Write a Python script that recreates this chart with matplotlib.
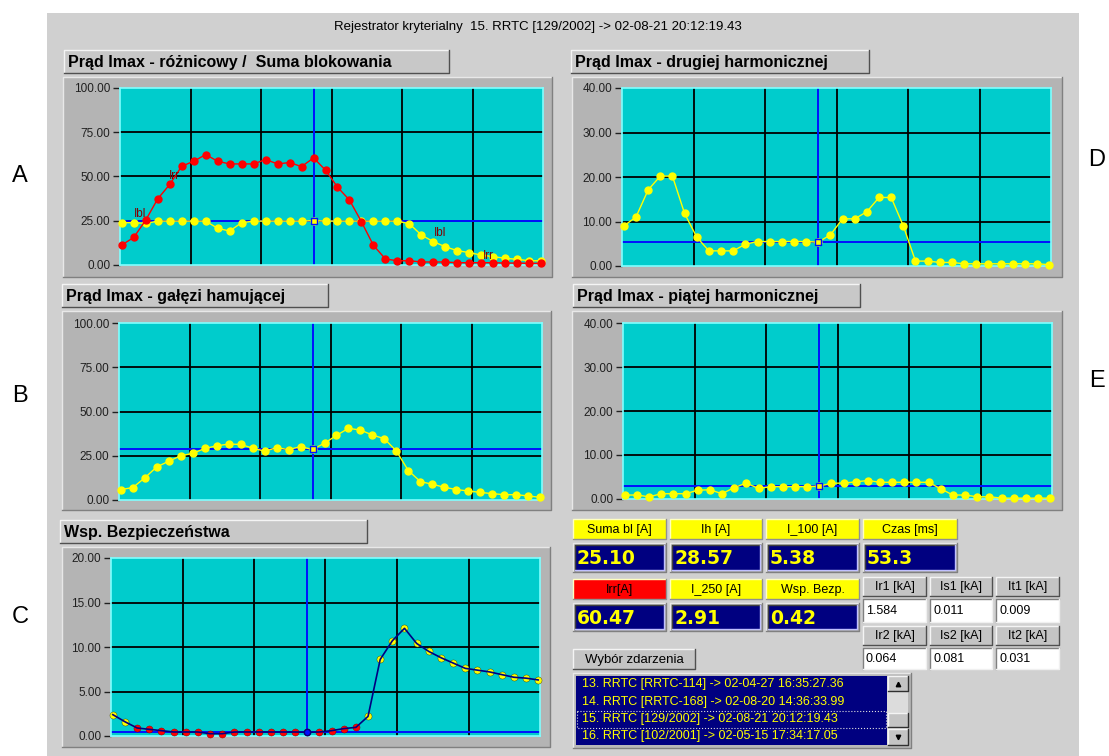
import matplotlib
matplotlib.use('Agg')
import matplotlib.pyplot as plt
from matplotlib.patches import Rectangle
import numpy as np

W, H = 1109, 756
plt.rcParams['font.family'] = ['Liberation Sans', 'DejaVu Sans']

# ---------------- data ----------------
n_samples = 36
cursor_idx = 16

irr = [11.3, 15.6, 25.4, 37.4, 45.5, 55.8, 58.6, 62.4, 58.6, 57.1, 57.1, 57.1, 59.6, 57.1, 57.9, 55.6,
       60.5, 53.6, 44.0, 36.7, 24.4, 11.1, 3.4, 2.4, 2.4, 1.7, 1.7, 1.7, 1.3, 1.3, 1.3, 1.3, 1.1, 1.1, 0.9, 0.9]
ibl = [23.9, 23.9, 23.5, 24.8, 24.8, 24.8, 24.8, 24.8, 20.7, 19.2, 23.9, 24.8, 24.8, 24.8, 24.8, 24.8,
       25.1, 24.8, 24.8, 24.8, 24.8, 24.8, 24.8, 24.8, 23.3, 16.9, 13.2, 10.3, 8.1, 7.0, 5.6, 4.7, 3.8, 3.2, 2.4, 2.4]
ih = [5.9, 7.0, 12.5, 18.7, 21.9, 25.0, 26.3, 29.1, 30.6, 31.6, 31.4, 29.3, 27.6, 29.5, 28.5, 30.1,
      28.57, 32.1, 36.5, 40.5, 39.5, 36.7, 34.6, 27.6, 16.6, 10.4, 8.9, 7.2, 5.9, 5.1, 4.3, 3.6, 3.0, 3.0, 2.3, 1.5]
i100 = [9.0, 11.0, 17.1, 20.2, 20.2, 11.8, 6.5, 3.4, 3.4, 3.4, 4.9, 5.5, 5.5, 5.5, 5.5, 5.5,
        5.38, 7.0, 10.6, 10.6, 12.2, 15.4, 15.4, 9.0, 1.1, 1.1, 0.8, 0.8, 0.5, 0.5, 0.5, 0.5, 0.5, 0.5, 0.5, 0.3]
i250 = [0.9, 0.9, 0.5, 1.2, 1.2, 1.2, 2.0, 2.1, 1.2, 2.6, 3.6, 2.4, 2.8, 2.8, 2.8, 2.8,
        2.91, 3.6, 3.6, 3.9, 4.2, 3.8, 3.8, 3.8, 3.8, 3.8, 2.3, 0.9, 0.9, 0.5, 0.5, 0.2, 0.2, 0.2, 0.2, 0.2]
wsp = [2.4, 1.6, 0.9, 0.75, 0.6, 0.45, 0.45, 0.45, 0.26, 0.26, 0.45, 0.45, 0.45, 0.45, 0.45, 0.45,
       0.42, 0.45, 0.6, 0.83, 0.97, 2.2, 8.6, 10.7, 12.1, 10.4, 9.5, 8.8, 8.2, 7.6, 7.4, 7.2, 6.9, 6.6, 6.5, 6.3]

cursor_suma_bl = 25.10
cursor_ih = 28.57
cursor_i100 = 5.38
cursor_i250 = 2.91
cursor_wsp = 0.42

title_main = "Rejestrator kryterialny  15. RRTC [129/2002] -> 02-08-21 20:12:19.43"
chart_titles = ["Prąd Imax - różnicowy /  Suma blokowania", "Prąd Imax - drugiej harmonicznej",
                "Prąd Imax - gałęzi hamującej", "Prąd Imax - piątej harmonicznej", "Wsp. Bezpieczeństwa"]
row1_labels = ["Suma bl [A]", "Ih [A]", "I_100 [A]", "Czas [ms]"]
row1_values = ["25.10", "28.57", "5.38", "53.3"]
row2_labels = ["Irr[A]", "I_250 [A]", "Wsp. Bezp."]
row2_values = ["60.47", "2.91", "0.42"]
ka_labels1 = ["Ir1 [kA]", "Is1 [kA]", "It1 [kA]"]
ka_values1 = ["1.584", "0.011", "0.009"]
ka_labels2 = ["Ir2 [kA]", "Is2 [kA]", "It2 [kA]"]
ka_values2 = ["0.064", "0.081", "0.031"]
events = ["13. RRTC [RRTC-114] -> 02-04-27 16:35:27.36",
          "14. RRTC [RRTC-168] -> 02-08-20 14:36:33.99",
          "15. RRTC [129/2002] -> 02-08-21 20:12:19.43",
          "16. RRTC [102/2001] -> 02-05-15 17:34:17.05"]
side_letters = ["A", "B", "C", "D", "E"]

# ---------------- figure ----------------
PANEL = '#d0d0d0'
FRAME = '#b4b4b4'
CYAN = '#00cccc'
NAVY = '#000080'
YEL = '#ffff00'
BLUE = '#0010ff'
MS = 5.0

fig = plt.figure(figsize=(W / 100, H / 100), dpi=100)
fig.patch.set_facecolor('white')
bg = fig.add_axes([0, 0, 1, 1])
bg.set_xlim(0, W)
bg.set_ylim(H, 0)
bg.axis('off')
bg.set_zorder(0)


def rect(x0, y0, x1, y1, fc, ec='none', lw=0, z=1, ls='-'):
    bg.add_patch(Rectangle((x0, y0), x1 - x0, y1 - y0, facecolor=fc, edgecolor=ec,
                           linewidth=lw, zorder=z, linestyle=ls))


def bevel(x0, y0, x1, y1, fc, raised=True, z=1, lt='#f4f4f4', dk='#707070'):
    rect(x0, y0, x1, y1, fc, z=z)
    a, b = (lt, dk) if raised else (dk, lt)
    bg.plot([x0, x0, x1], [y1, y0, y0], color=a, lw=1.0, zorder=z + 0.1)
    bg.plot([x0, x1, x1], [y1, y1, y0], color=b, lw=1.0, zorder=z + 0.1)


# main panel
rect(47, 13, 1079, 756, PANEL, z=0.5)
bg.text(538, 27, title_main, ha='center', va='center', fontsize=9.5, color='black', zorder=2)

# side letters
for letter, (lx, ly) in zip(side_letters, [(20, 176), (20, 396), (20, 617), (1097, 160), (1097, 381)]):
    bg.text(lx, ly, letter, ha='center', va='center', fontsize=17, color='black')

# chart layout (pixels)
chart_specs = [
    # title button, frame, plot area
    ((64, 50, 449, 73), (63, 77, 552, 277), (120, 88, 543, 265)),
    ((571, 50, 869, 73), (572, 77, 1062, 277), (622, 88, 1051, 266)),
    ((62, 284, 328, 307), (62, 311, 551, 510), (119, 323, 542, 500)),
    ((573, 284, 860, 307), (572, 311, 1062, 510), (623, 323, 1052, 499)),
    ((60, 520, 367, 543), (62, 547, 550, 747), (111, 558, 540, 736)),
]

x = np.arange(n_samples)
XL = (-0.15, n_samples - 1 + 0.15)


def make_axes(i, ymax):
    tb, fr, pa = chart_specs[i]
    bevel(*tb, '#c8c8c8', raised=True, z=1, dk='#505050')
    bg.text(tb[0] + 4, (tb[1] + tb[3]) / 2 + 0.5, chart_titles[i], ha='left', va='center',
            fontsize=11.5, fontweight='bold', color='black', zorder=3)
    bevel(*fr, FRAME, raised=True, z=1, lt='#e8e8e8', dk='#808080')
    x0, y0, x1, y1 = pa
    ax = fig.add_axes([x0 / W, 1 - y1 / H, (x1 - x0) / W, (y1 - y0) / H])
    ax.set_zorder(2)
    ax.set_facecolor(CYAN)
    ax.set_xlim(*XL)
    ax.set_ylim(0, ymax)
    yt = np.linspace(0, ymax, 5)
    ax.set_yticks(yt)
    ax.set_yticklabels([f'{v:.2f}' for v in yt], fontsize=8.5, color='#202020')
    ax.tick_params(axis='y', direction='out', length=5, width=1, color='#202020', pad=2)
    ax.set_xticks([])
    for v in yt[1:-1]:
        ax.axhline(v, color='black', lw=1.3, zorder=1)
    span = XL[1] - XL[0]
    for k in range(1, 6):
        ax.axvline(XL[0] + k * span / 6, color='black', lw=1.3, zorder=1)
    for s in ax.spines.values():
        s.set_color('#80ffff')
        s.set_linewidth(1.2)
    return ax


def cursor(ax, yv):
    ax.axvline(cursor_idx, color=BLUE, lw=1.4, zorder=2)
    ax.axhline(yv, color=BLUE, lw=1.4, zorder=2)


def cursor_marker(ax, yv, mfc=YEL):
    ax.plot([cursor_idx], [yv], marker='s', ms=4.5, mfc=mfc, mec=BLUE, mew=1.0, zorder=6, clip_on=False)


# Chart A
axA = make_axes(0, 100)
cursor(axA, cursor_suma_bl)
axA.plot(x, ibl, color=YEL, lw=1.0, marker='o', ms=MS, mfc=YEL, mec=YEL, zorder=3, clip_on=False)
axA.plot(x, irr, color='#ff0000', lw=1.0, marker='o', ms=MS, mfc='#ff0000', mec='#ff0000', zorder=4,
         clip_on=False)
cursor_marker(axA, cursor_suma_bl)
for (tx, ty, tt) in [(1.5, 29, 'Ibl'), (4.4, 50, 'Irr'), (26.6, 18, 'Ibl'), (30.6, 5, 'Irr')]:
    axA.text(tx, ty, tt, fontsize=8.5, color='#800000', ha='center', va='center', zorder=5)

# Chart D
axD = make_axes(1, 40)
cursor(axD, cursor_i100)
axD.plot(x, i100, color=YEL, lw=1.0, marker='o', ms=MS, mfc=YEL, mec=YEL, zorder=3, clip_on=False)
cursor_marker(axD, cursor_i100)

# Chart B
axB = make_axes(2, 100)
cursor(axB, cursor_ih)
axB.plot(x, ih, color=YEL, lw=1.0, marker='o', ms=MS, mfc=YEL, mec=YEL, zorder=3, clip_on=False)
cursor_marker(axB, cursor_ih)

# Chart E
axE = make_axes(3, 40)
cursor(axE, cursor_i250)
axE.plot(x, i250, color=YEL, lw=1.0, marker='o', ms=MS, mfc=YEL, mec=YEL, zorder=3, clip_on=False)
cursor_marker(axE, cursor_i250)

# Chart C
axC = make_axes(4, 20)
cursor(axC, cursor_wsp)
wsp_arr = np.array(wsp)
hi = wsp_arr >= 1
axC.scatter(x[hi], wsp_arr[hi], s=26, c=YEL, edgecolors='#404000', linewidths=0.3, zorder=3, clip_on=False)
axC.scatter(x[~hi], wsp_arr[~hi], s=26, c='#ff0000', edgecolors='#800000', linewidths=0.3, zorder=3,
            clip_on=False)
axC.plot(x, wsp, color=NAVY, lw=1.2, zorder=4, clip_on=False)
axC.plot([cursor_idx], [cursor_wsp], marker='o', ms=4.5, mfc=BLUE, mec=NAVY, zorder=6)

# ---------------- right bottom widgets ----------------
col_x = [(573, 666), (670, 762), (766, 859), (863, 957)]


def label_box(x0, y0, x1, y1, text, fc):
    bevel(x0, y0, x1, y1, fc, raised=True, z=1, lt='#ffffc0', dk='#909090')
    bg.text((x0 + x1) / 2, (y0 + y1) / 2 + 0.5, text, ha='center', va='center', fontsize=9, color='black',
            zorder=3)


def value_box(x0, y0, x1, y1, text):
    bevel(x0, y0, x1, y1, '#a8a8a8', raised=True, z=1, lt='#e8e8e8', dk='#808080')
    bevel(x0 + 2, y0 + 2, x1 - 2, y1 - 2, NAVY, raised=False, z=1.5, lt='#c0c0ff', dk='#404040')
    bg.text(x0 + 4, (y0 + y1) / 2 + 1, text, ha='left', va='center', fontsize=13.5, fontweight='bold',
            color=YEL, family='DejaVu Sans', zorder=3)


for (cx0, cx1), lab, val in zip(col_x, row1_labels, row1_values):
    label_box(cx0, 519, cx1, 539, lab, YEL)
    value_box(cx0, 543, cx1, 572, val)

for k, ((cx0, cx1), lab, val) in enumerate(zip(col_x[:3], row2_labels, row2_values)):
    label_box(cx0, 579, cx1, 599, lab, '#ff0000' if k == 0 else YEL)
    value_box(cx0, 603, cx1, 631, val)

ka_x = [(863, 926), (930, 992), (996, 1059)]


def gray_button(x0, y0, x1, y1, text, fs=9, ha='center'):
    bevel(x0, y0, x1, y1, '#c4c4c4', raised=True, z=1, lt='#f4f4f4', dk='#505050')
    tx = (x0 + x1) / 2 if ha == 'center' else x0 + 5
    bg.text(tx, (y0 + y1) / 2 + 0.5, text, ha=ha, va='center', fontsize=fs, color='black', zorder=3)


def white_box(x0, y0, x1, y1, text):
    bevel(x0, y0, x1, y1, 'white', raised=False, z=1, lt='#f0f0f0', dk='#808080')
    bg.text(x0 + 3, (y0 + y1) / 2 + 0.5, text, ha='left', va='center', fontsize=9, color='black', zorder=3)


for (bx0, bx1), lab, val in zip(ka_x, ka_labels1, ka_values1):
    gray_button(bx0, 577, bx1, 596, lab)
    white_box(bx0, 599, bx1, 622, val)
for (bx0, bx1), lab, val in zip(ka_x, ka_labels2, ka_values2):
    gray_button(bx0, 626, bx1, 645, lab)
    white_box(bx0, 648, bx1, 669, val)

gray_button(573, 649, 695, 669, "Wybór zdarzenia", fs=9.5)

# event list
bevel(573, 673, 911, 748, '#b8b8b8', raised=True, z=1, lt='#e8e8e8', dk='#808080')
rect(576, 676, 887, 745, NAVY, z=1.5)
for k, ev in enumerate(events):
    yy = 684.5 + k * 17.2
    bg.text(582, yy, ev, ha='left', va='center', fontsize=9, color=YEL, zorder=3)
rect(577, 711, 886, 727.5, 'none', ec='#e0e0e0', lw=0.8, ls=':', z=3)
# scrollbar
rect(887, 676, 908, 745, '#dcdcdc', z=1.6)
bevel(888, 676, 908, 691, '#c4c4c4', raised=True, z=2, dk='#303030')
bevel(888, 713, 908, 727, '#c4c4c4', raised=True, z=2, dk='#303030')
bevel(888, 729, 908, 745, '#c4c4c4', raised=True, z=2, dk='#303030')
bg.plot([898], [684], marker='^', ms=3.2, color='black', zorder=3)
bg.plot([898], [737], marker='v', ms=3.2, color='black', zorder=3)

fig.savefig('out.png', dpi=100, facecolor='white')
